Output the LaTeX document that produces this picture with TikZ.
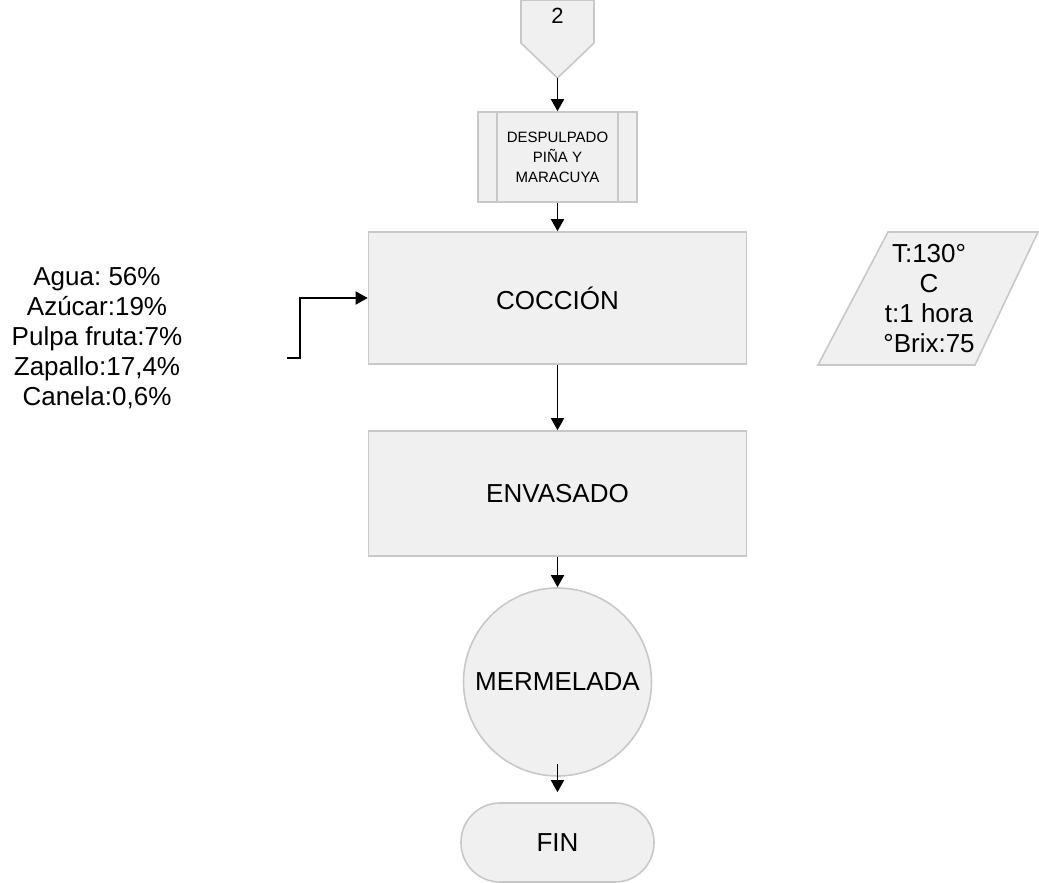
\documentclass[tikz,border=0pt]{standalone}
\usepackage{fontspec}
\setmainfont{Liberation Sans}
\usepackage{xcolor}
\usepackage{tikz}
\usetikzlibrary{shapes, arrows.meta, positioning, calc}

\definecolor{boxfill}{HTML}{F0F0F0}
\definecolor{boxline}{HTML}{C8C8C8}
\frenchspacing

\begin{document}
\begin{tikzpicture}[
        x=1pt, y=-1pt,
        flowbox/.style={draw=boxline, fill=boxfill, line width=1.6pt},
        process/.style={flowbox, rectangle, minimum width=378, minimum height=130, font=\fontsize{26}{30}\selectfont},
        arr/.style={-{Triangle[length=12pt, width=13pt]}, line width=1.6pt, black},
        txtlabel/.style={align=center, font=\fontsize{26}{30}\selectfont, inner sep=0pt}
    ]
        \useasboundingbox (0,0) rectangle (1039,883);

        % off-page connector
        \draw[flowbox] (521,0) -- (594,0) -- (594,43) -- (557.5,78) -- (521,43) -- cycle;
        \node[font=\fontsize{22}{26}\selectfont, inner sep=0pt] (off) at (557.5,16) {2};
        \coordinate (offtip) at (557.5,78);

        % predefined process
        \node[flowbox, rectangle, minimum width=159, minimum height=90, align=center,
              font=\fontsize{15}{20}\selectfont] (despul) at (557.5,157) {DESPULPADO\\PIÑA Y\\MARACUYA};
        \draw[draw=boxline, line width=1.6pt] ([xshift=20pt]despul.north west) -- ([xshift=20pt]despul.south west);
        \draw[draw=boxline, line width=1.6pt] ([xshift=-20pt]despul.north east) -- ([xshift=-20pt]despul.south east);

        \node[process, minimum height=132] (cocc) at (557.5,298) {COCCIÓN};
        \node[process, minimum height=125] (env) at (557.5,493.5) {ENVASADO};
        \node[flowbox, circle, minimum size=188, font=\fontsize{26}{30}\selectfont] (merm) at (557.5,682) {MERMELADA};
        \node[flowbox, rectangle, rounded corners=39pt, minimum width=193, minimum height=79,
              font=\fontsize{26}{30}\selectfont] (fin) at (557.5,842.5) {FIN};

        % ingredients
        \node[txtlabel] (ingred) at (97,338.5) {Agua: 56\%\\Azúcar:19\%\\Pulpa fruta:7\%\\Zapallo:17,4\%\\Canela:0,6\%};
        \coordinate (ingredin) at (287,358);

        % cooking parameters
        \draw[flowbox] (888,232) -- (1038,232) -- (975,365) -- (818,365) -- cycle;
        \node[txtlabel] (param) at (929,299) {T:130°\\C\\t:1 hora\\°Brix:75};

        % flow
        \draw[arr] (offtip) -- (despul.north);
        \draw[arr] (despul) -- (cocc);
        \draw[arr] (cocc) -- (env);
        \draw[arr] (env) -- (merm);
        \draw[arr, shorten <=-13pt, shorten >=10pt] (merm) -- (fin);
        \draw[arr] (ingredin) -- ++(13,0) |- (cocc.west);

    \end{tikzpicture}
\end{document}
